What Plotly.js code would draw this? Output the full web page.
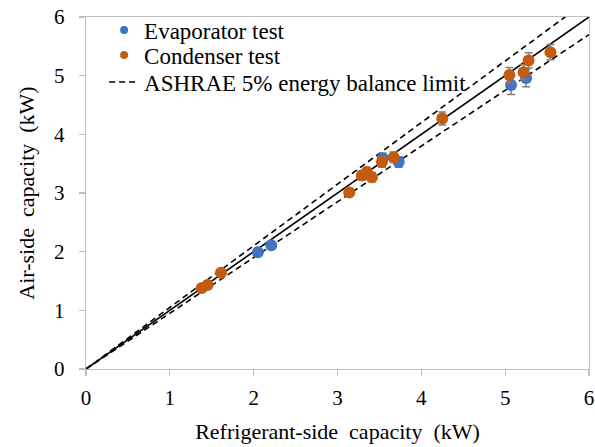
<!DOCTYPE html>
<html>
<head>
<meta charset="utf-8">
<script src="https://cdn.plot.ly/plotly-3.0.1.min.js"></script>
<style>
html,body{margin:0;padding:0;background:#fff;}
#chart{width:595px;height:447px;}
</style>
</head>
<body>
<div id="chart"></div>
<script>
// Evaporator test data (refrigerant-side kW, air-side kW, error kW)
const evapX = [2.05, 2.21, 3.54, 3.73, 5.07, 5.25];
const evapY = [1.99, 2.11, 3.59, 3.53, 4.84, 4.96];
const evapErr = [0.05, 0.05, 0.09, 0.09, 0.16, 0.15];

// Condenser test data
const condX = [1.38, 1.45, 1.61, 3.14, 3.29, 3.35, 3.41, 3.53, 3.67, 4.25, 5.05, 5.22, 5.28, 5.54];
const condY = [1.38, 1.43, 1.64, 3.01, 3.30, 3.36, 3.27, 3.53, 3.61, 4.27, 5.01, 5.06, 5.26, 5.40];
const condErr = [0.04, 0.04, 0.04, 0.07, 0.08, 0.08, 0.08, 0.09, 0.09, 0.11, 0.13, 0.13, 0.13, 0.13];

// Reference line (y = x) and ASHRAE 5% energy balance limits
const refX = [0, 6];
const refY = [0, 6];
const upperFactor = 1.05;
const lowerFactor = 0.95;
const upperY = refX.map(v => v * upperFactor);
const lowerY = refX.map(v => v * lowerFactor);

const tickVals = [0, 1, 2, 3, 4, 5, 6];
const tickText = ['0', '1', '2', '3', '4', '5', '6'];
const legendNames = ['Evaporator test', 'Condenser test', 'ASHRAE 5% energy balance limit'];

const blue = '#4472C4';
const orange = '#C55A11';
const errStyle = {type: 'data', visible: true, color: '#7f7f7f', thickness: 1.5, width: 4};

const traces = [
  {x: refX, y: refY, mode: 'lines', line: {color: '#000', width: 1.6}, showlegend: false, hoverinfo: 'skip'},
  {x: refX, y: upperY, mode: 'lines', line: {color: '#000', width: 1.6, dash: '6px,4px'}, showlegend: false, hoverinfo: 'skip'},
  {x: refX, y: lowerY, mode: 'lines', line: {color: '#000', width: 1.6, dash: '6px,4px'}, showlegend: false, hoverinfo: 'skip'},
  {x: evapX, y: evapY, mode: 'markers', marker: {color: blue, size: 12},
   error_y: Object.assign({array: evapErr}, errStyle), showlegend: false},
  {x: condX, y: condY, mode: 'markers', marker: {color: orange, size: 12},
   error_y: Object.assign({array: condErr}, errStyle), showlegend: false},
  // legend entries (one legend per row so the row spacing can follow the reference)
  {x: [null], y: [null], mode: 'markers', name: legendNames[0], legend: 'legend', marker: {color: blue, size: 8}},
  {x: [null], y: [null], mode: 'markers', name: legendNames[1], legend: 'legend2', marker: {color: orange, size: 8}},
  {x: [null], y: [null], mode: 'lines', name: legendNames[2], legend: 'legend3', line: {color: '#000', width: 1.6, dash: '6px,4px'}}
];

const fontFam = 'Liberation Serif, Times New Roman, serif';
const axisCommon = {
  range: [0, 6],
  tickvals: tickVals,
  ticktext: tickText,
  showgrid: false,
  zeroline: false,
  showline: true,
  mirror: true,
  linecolor: '#bfbfbf',
  linewidth: 1.3,
  ticks: 'outside',
  ticklen: 6,
  tickwidth: 1.3,
  tickcolor: '#bfbfbf',
  tickfont: {family: fontFam, size: 21, color: '#000'},
  fixedrange: true
};

function legendAt(yPaper) {
  return {
    x: 0.036, y: yPaper, xanchor: 'left', yanchor: 'middle',
    bgcolor: 'rgba(0,0,0,0)',
    font: {family: fontFam, size: 23, color: '#000'}
  };
}

const layout = {
  width: 595,
  height: 447,
  margin: {l: 86, r: 6, t: 17, b: 78},
  paper_bgcolor: '#fff',
  plot_bgcolor: '#fff',
  font: {family: fontFam, color: '#000', size: 21},
  xaxis: Object.assign({}, axisCommon, {
    title: {text: 'Refrigerant-side  capacity  (kW)', font: {family: fontFam, size: 22, color: '#000'}, standoff: 15},
    ticklabelstandoff: 3
  }),
  yaxis: Object.assign({}, axisCommon, {
    title: {text: 'Air-side  capacity  (kW)', font: {family: fontFam, size: 22, color: '#000'}, standoff: 13},
    ticklabelstandoff: 10
  }),
  showlegend: true,
  legend: legendAt(0.963),
  legend2: legendAt(0.892),
  legend3: legendAt(0.815)
};

Plotly.newPlot('chart', traces, layout, {displayModeBar: false, staticPlot: true});
</script>
</body>
</html>
